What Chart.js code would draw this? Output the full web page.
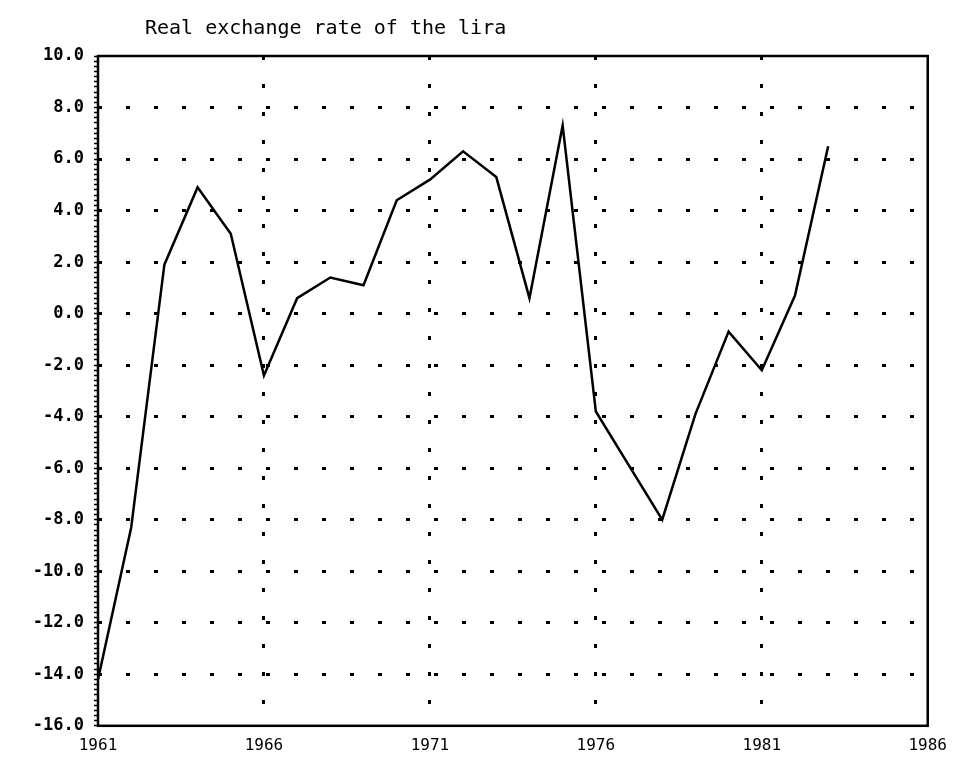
<!DOCTYPE html>
<html>
<head>
<meta charset="utf-8">
<title>Real exchange rate of the lira</title>
<script src="https://cdn.jsdelivr.net/npm/chart.js@4.4.0/dist/chart.umd.min.js"></script>
<style>
    html, body { margin: 0; padding: 0; background: #fff; }
</style>
</head>
<body>
<canvas id="chart" width="957" height="771"></canvas>
<script>
// values (yearly, 1961-1983)
const years = [1961, 1962, 1963, 1964, 1965, 1966, 1967, 1968, 1969, 1970, 1971, 1972,
    1973, 1974, 1975, 1976, 1977, 1978, 1979, 1980, 1981, 1982, 1983];
const realRate = [-14.2, -8.3, 1.9, 4.9, 3.1, -2.4, 0.6, 1.4, 1.1, 4.4, 5.2, 6.3,
    5.3, 0.6, 7.3, -3.8, -5.9, -8.0, -3.9, -0.7, -2.2, 0.7, 6.5];
const xTickLabels = [1961, 1966, 1971, 1976, 1981, 1986];
const yTickLabels = [-16, -14, -12, -10, -8, -6, -4, -2, 0, 2, 4, 6, 8, 10];
const chartTitle = 'Real exchange rate of the lira';

const ctxt = document.getElementById('chart').getContext('2d');
const xMin = xTickLabels[0];
const xMax = xTickLabels[xTickLabels.length - 1];
const yMin = yTickLabels[0];
const yMax = yTickLabels[yTickLabels.length - 1];

// plot frame drawn round the chart area, title above it
const framePlugin = {
    id: 'frame',
    beforeDatasetsDraw(chart) {
        const a = chart.chartArea;
        const c = chart.ctx;
        c.save();
        c.strokeStyle = '#000';
        c.lineWidth = 2.5;
        c.strokeRect(a.left, a.top, a.right - a.left, a.bottom - a.top);
        c.restore();
    },
    afterDraw(chart) {
        const c = chart.ctx;
        c.save();
        c.fillStyle = '#000';
        c.font = '20px "DejaVu Sans Mono"';
        c.textBaseline = 'alphabetic';
        c.fillText(chartTitle, 145, 34);
        c.restore();
    }
};

function buildYTicks(scale) {
    // minor marks every 0.2 along the left axis, labels on the listed values
    let ticks = [];
    let n = Math.round((yMax - yMin) / 0.2);
    for (let i = 0; i <= n; i++) {
        let v = Math.round((yMin + i * 0.2) * 10) / 10;
        ticks.push({ value: v, major: yTickLabels.includes(v) });
    }
    scale.ticks = ticks;
}

// dotted grid only inside the frame
function yGridColor(c) {
    if (!c.tick || !c.tick.major) return 'rgba(0,0,0,0)';
    if (c.tick.value === yMin || c.tick.value === yMax) return 'rgba(0,0,0,0)';
    return '#000';
}

function xGridColor(c) {
    if (!c.tick || c.tick.value === xMin || c.tick.value === xMax) return 'rgba(0,0,0,0)';
    return '#000';
}

var chart = new Chart(ctxt, {
    type: 'line',
    data: {
        datasets: [{
            data: years.map((y, i) => ({ x: y, y: realRate[i] })),
            borderColor: '#000',
            borderWidth: 2.5,
            pointRadius: 0,
            tension: 0,
            fill: false
        }]
    },
    options: {
        responsive: false,
        animation: false,
        layout: { padding: { top: 56, right: 0, left: 0, bottom: 6 } },
        plugins: {
            legend: { display: false },
            tooltip: { enabled: false }
        },
        scales: {
            x: {
                type: 'linear',
                min: xMin,
                max: xMax,
                afterBuildTicks: (scale) => {
                    scale.ticks = xTickLabels.map((v) => ({ value: v }));
                },
                grid: {
                    color: xGridColor,
                    lineWidth: 3,
                    drawTicks: false
                },
                border: { display: false, dash: [4, 24] },
                ticks: {
                    autoSkip: false,
                    maxRotation: 0,
                    padding: 10,
                    color: '#000',
                    font: { family: 'DejaVu Sans Mono', size: 16 },
                    callback: (value) => String(value)
                }
            },
            y: {
                min: yMin,
                max: yMax,
                afterBuildTicks: buildYTicks,
                afterFit: (scale) => { scale.width = 98; },
                grid: {
                    color: yGridColor,
                    lineWidth: 3,
                    tickColor: '#000',
                    tickWidth: 1.5,
                    tickLength: 4,
                    tickBorderDash: []
                },
                border: { display: false, dash: [4, 24] },
                ticks: {
                    autoSkip: false,
                    padding: 10,
                    color: '#000',
                    font: { family: 'DejaVu Sans Mono', size: 17, weight: 'bold' },
                    callback: (value, index, ticks) => ticks[index].major ? value.toFixed(1) : ''
                }
            }
        }
    },
    plugins: [framePlugin]
});
</script>
</body>
</html>
